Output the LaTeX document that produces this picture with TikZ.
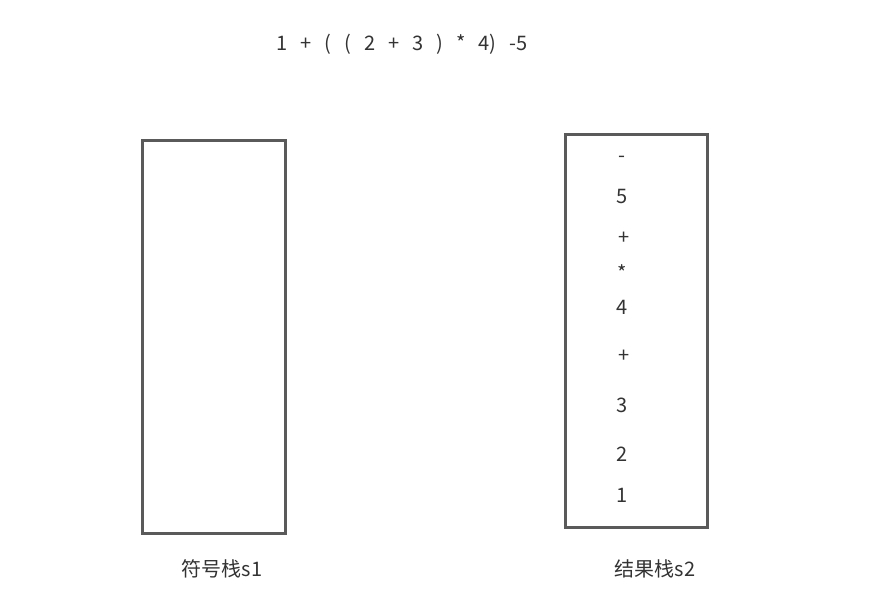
\documentclass[tikz,border=0pt]{standalone}
\usepackage{fontspec}
\setmainfont{Noto Sans CJK SC}
\begin{document}
\begin{tikzpicture}[x=1pt,y=-1pt,
  stackbox/.style={draw=boxgray,line width=3pt},
  item/.style={font=\fontsize{20}{24}\selectfont,text=txt,inner sep=0pt},
  lbl/.style={font=\fontsize{20}{24}\selectfont,text=txt,inner sep=0pt}]
\definecolor{boxgray}{HTML}{5A5A5A}
\definecolor{txt}{HTML}{333333}
\useasboundingbox (0,0) rectangle (877,603);
\def\g{\hspace{13pt}}
\node[item] (expr) at (402,44) {1\g+\g(\g(\g2\g+\g3\g)\g*\g4)\g-5};
\draw[stackbox] (142,140) rectangle (285,533);
\node (s1box) at (213.5,336.5) {};
\draw[stackbox] (565,134) rectangle (707,527);
\node[item] (m) at (622,159) {-};
\node[item] (n5) at (622,196) {5};
\node[item] (p1) at (624,238) {+};
\node[item] (st) at (622,273) {*};
\node[item] (n4) at (622,307) {4};
\node[item] (p2) at (624,356) {+};
\node[item] (n3) at (622,405) {3};
\node[item] (n2) at (622,454) {2};
\node[item] (n1) at (622,495) {1};
\node[lbl] (l1) at (222,569) {符号栈s1};
\node[lbl] (l2) at (655,569) {结果栈s2};
\end{tikzpicture}
\end{document}
